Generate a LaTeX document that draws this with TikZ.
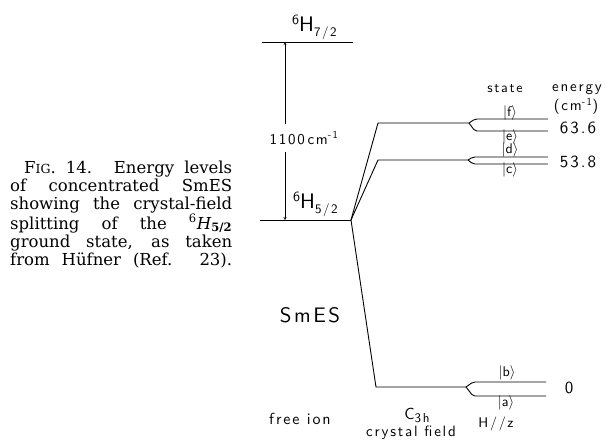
\documentclass[tikz,border=0pt]{standalone}
\usepackage{fontspec}
\newfontfamily\figcapfont{DejaVu Serif}
\newfontfamily\lettering{lmsans10-regular.otf}[LetterSpace=12]
\newcommand{\lettr}[1]{\lettering\fontsize{#1}{#1}\selectfont}
\newcommand{\term}[2]{\raisebox{7pt}{\lettr{14}#1}\lettr{21}H\raisebox{-5pt}{\lettr{13}#2}}
\begin{document}
\begin{tikzpicture}[x=1pt,y=-1pt,>=stealth,
    level/.style={line width=0.9pt},
    fork/.style={line width=0.9pt,rounded corners=2pt},
    txt/.style={inner sep=0pt,font=\lettr{#1}},
    txt/.default=13]
    \useasboundingbox (0,0) rectangle (606,440);
    % caption
    \node[anchor=north west, inner sep=0pt, text width=222pt, align=justify,
      font=\figcapfont\fontsize{16.5}{18}\selectfont] (cap) at (10,161)
      {\parfillskip=0pt\hspace*{14pt}F{\fontsize{12.5}{18}\selectfont IG}. 14. Energy levels\linebreak
       of concentrated SmES\linebreak
       showing the crystal-field\linebreak
       splitting of the \textsuperscript{6}\textit{H}\textsubscript{\textbf{5/2}}\linebreak
       ground state, as taken\linebreak
       from Hüfner (Ref. 23).\par};
    % free ion
    \coordinate (h7a) at (262,42);
    \coordinate (h7b) at (353,42);
    \coordinate (h5a) at (260,220);
    \coordinate (h5b) at (351,220);
    \draw[level] (h7a) -- (h7b);
    \draw[level] (h5a) -- (h5b);
    \node[anchor=base west, inner sep=0pt] (h7) at (292,31) {\term{6}{7/2}};
    \node[anchor=base west, inner sep=0pt] (h5) at (293,208) {\term{6}{5/2}};
    \coordinate (ar7) at (285,42);
    \coordinate (ar5) at (285,220);
    \draw[<->,thin] (ar7) -- (ar5);
    \node[txt=15, fill=white, inner xsep=2pt, inner ysep=8pt] (gap) at (304,138) {1100\,cm\textsuperscript{-1}};
    % crystal field
    \coordinate (cfA) at (378,123);
    \coordinate (cfB) at (378,160);
    \coordinate (cfC) at (376,387);
    \coordinate (fA) at (469,123);
    \coordinate (fB) at (468,160);
    \coordinate (fC) at (466,387);
    \draw[level] (h5b) -- (cfA) -- (fA);
    \draw[level] (h5b) -- (cfB) -- (fB);
    \draw[level] (h5b) -- (cfC) -- (fC);
    % H//z
    \draw[fork] (fA) -- (475,119) -- (548,119);
    \draw[fork] (fA) -- (475,131) -- (548,131);
    \draw[fork] (fB) -- (473,157) -- (548,157);
    \draw[fork] (fB) -- (473,164) -- (548,164);
    \draw[fork] (fC) -- (473,382) -- (546,382);
    \draw[fork] (fC) -- (473,396) -- (546,396);
    \node[txt=14] (st) at (505,89) {state};
    \node[txt=15] (en) at (577,90) {energy};
    \node[txt=15] (un) at (576,106) {(cm\textsuperscript{-1})};
    \node[txt=14] (kf) at (510,113) {$|$f$\rangle$};
    \node[txt=14] (ke) at (510,137) {$|$e$\rangle$};
    \node[txt=14] (kd) at (510,150) {$|$d$\rangle$};
    \node[txt=14] (kc) at (510,170) {$|$c$\rangle$};
    \node[txt=14] (kb) at (507,373) {$|$b$\rangle$};
    \node[txt=14] (ka) at (506,403) {$|$a$\rangle$};
    \node[txt=17] (eA) at (578,128) {63.6};
    \node[txt=17] (eB) at (578,162) {53.8};
    \node[txt=17] (eC) at (569,388) {0};
    \node[txt=21] (sm) at (310,315) {SmES};
    \node[txt=16] (fi) at (300,419) {free ion};
    \node[txt=16] (c3) at (417,415) {C\raisebox{-3pt}{\lettr{13}3h}};
    \node[txt=15] (cf) at (411,433) {crystal field};
    \node[txt=14] (hz) at (496,424) {H//z};
\end{tikzpicture}
\end{document}
